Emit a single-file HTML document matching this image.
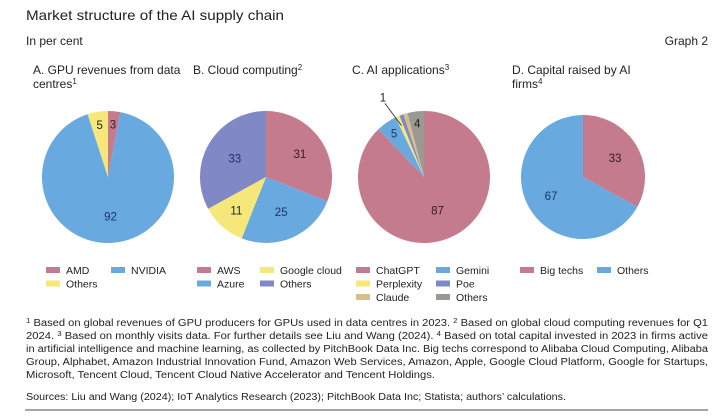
<!DOCTYPE html>
<html><head><meta charset="utf-8"><style>
html,body{margin:0;padding:0;background:#fff;}
svg{display:block;font-family:"Liberation Sans",sans-serif;}
</style></head><body>
<svg id="chart" width="720" height="418" viewBox="0 0 720 418" xmlns="http://www.w3.org/2000/svg">
<text x="26" y="20" font-size="14" fill="#222" textLength="258" lengthAdjust="spacingAndGlyphs">Market structure of the AI supply chain</text>
<text x="26" y="45" font-size="12" fill="#222">In per cent</text>
<text x="708" y="45" font-size="12" fill="#222" text-anchor="end">Graph 2</text>
<g font-size="12" fill="#222">
<text x="33" y="74">A. GPU revenues from data</text>
<text x="33" y="88">centres<tspan font-size="8" dy="-4">1</tspan></text>
<text x="193" y="74">B. Cloud computing<tspan font-size="8" dy="-4">2</tspan></text>
<text x="352" y="74">C. AI applications<tspan font-size="8" dy="-4">3</tspan></text>
<text x="512" y="74">D. Capital raised by AI</text>
<text x="512" y="88">firms<tspan font-size="8" dy="-4">4</tspan></text>
</g>
<g id="pies"></g>
<g id="legends" font-size="10.5" fill="#222"></g>
<g font-size="10" fill="#222">
<text x="26" y="326" textLength="682" lengthAdjust="spacingAndGlyphs"><tspan font-size="7" dy="-3">1</tspan><tspan dy="3">  Based on global revenues of GPU producers for GPUs used in data centres in 2023.   </tspan><tspan font-size="7" dy="-3">2</tspan><tspan dy="3">  Based on global cloud computing revenues for Q1</tspan></text>
<text x="26" y="339" textLength="682" lengthAdjust="spacingAndGlyphs">2024.   <tspan font-size="7" dy="-3">3</tspan><tspan dy="3">  Based on monthly visits data. For further details see Liu and Wang (2024).   </tspan><tspan font-size="7" dy="-3">4</tspan><tspan dy="3">  Based on total capital invested in 2023 in firms active</tspan></text>
<text x="26" y="352" textLength="682" lengthAdjust="spacingAndGlyphs">in artificial intelligence and machine learning, as collected by PitchBook Data Inc. Big techs correspond to Alibaba Cloud Computing, Alibaba</text>
<text x="26" y="365" textLength="682" lengthAdjust="spacingAndGlyphs">Group, Alphabet, Amazon Industrial Innovation Fund, Amazon Web Services, Amazon, Apple, Google Cloud Platform, Google for Startups,</text>
<text x="26" y="378" textLength="409" lengthAdjust="spacingAndGlyphs">Microsoft, Tencent Cloud, Tencent Cloud Native Accelerator and Tencent Holdings.</text>
<text x="26" y="400" textLength="540" lengthAdjust="spacingAndGlyphs">Sources: Liu and Wang (2024); IoT Analytics Research (2023); PitchBook Data Inc; Statista; authors’ calculations.</text>
</g>
<line x1="25" y1="410" x2="708" y2="410" stroke="#888" stroke-width="1.5"/>
</svg>
<script>
const aCategories=["AMD","NVIDIA","Others"];
const aValues=[3,92,5];
const bCategories=["AWS","Azure","Google cloud","Others"];
const bValues=[31,25,11,33];
const cCategories=["ChatGPT","Gemini","Perplexity","Poe","Claude","Others"];
const cValues=[87,5,1,1,1,4];
const dCategories=["Big techs","Others"];
const dValues=[33,67];

const NS="http://www.w3.org/2000/svg";
const COL={"AMD":"#c47b8e","NVIDIA":"#68a9df","AWS":"#c47b8e","Azure":"#68a9df","Google cloud":"#f6e77a","ChatGPT":"#c47b8e","Gemini":"#68a9df","Perplexity":"#f6e77a","Poe":"#8088c6","Claude":"#d8be8d","Big techs":"#c47b8e"};
const panels=[
 {id:"a",cats:aCategories,vals:aValues,cx:108,cy:177,r:66,others:"#f6e77a",labels:[0,1,2],legX:[46,111],legCols:[[0,2],[1]],frac:[0.8,0.6,0.8]},
 {id:"b",cats:bCategories,vals:bValues,cx:266,cy:177,r:66,others:"#8088c6",labels:[0,1,2,3],legX:[197,260],legCols:[[0,1],[2,3]],frac:[0.62,0.58,0.68,0.55]},
 {id:"c",cats:cCategories,vals:cValues,cx:424,cy:177,r:66,others:"#9b9a92",labels:[0,1,2,5],legX:[356,436],legCols:[[0,2,4],[1,3,5]],frac:[0.55,0.8,1,1,1,0.82]},
 {id:"d",cats:dCategories,vals:dValues,cx:583,cy:177,r:62,others:"#68a9df",labels:[0,1],legX:[520,597],legCols:[[0],[1]],frac:[0.6,0.6]}
];
function color(p,c){return c==="Others"?p.others:COL[c];}
function pt(p,ang,rr){return [p.cx+rr*Math.sin(ang),p.cy-rr*Math.cos(ang)];}
const pies=document.getElementById("pies");
const legs=document.getElementById("legends");
panels.forEach(p=>{
  const total=p.vals.reduce((s,v)=>s+v,0);
  const g=document.createElementNS(NS,"g");
  
  
  pies.appendChild(g);
  let acc=0;
  p.vals.forEach((v,i)=>{
    const a0=acc/total*2*Math.PI; acc+=v; const a1=acc/total*2*Math.PI;
    const s=pt(p,a0,p.r), e=pt(p,a1,p.r);
    const large=(a1-a0)>Math.PI?1:0;
    const path=document.createElementNS(NS,"path");
    path.setAttribute("d",`M${p.cx},${p.cy} L${s[0]},${s[1]} A${p.r},${p.r} 0 ${large} 1 ${e[0]},${e[1]} Z`);
    path.setAttribute("fill",color(p,p.cats[i]));
    
    
    g.appendChild(path);
    if(p.labels.indexOf(i)>=0){
      const mid=(a0+a1)/2;
      let q=pt(p,mid,p.r*p.frac[i]);
      const isOut=(p.id==="c"&&p.cats[i]==="Perplexity");
      if(isOut){ q=pt(p,mid,p.r*1.25); q=[q[0]-8,q[1]-4]; }
      const t=document.createElementNS(NS,"text");
      t.setAttribute("x",q[0]);t.setAttribute("y",q[1]+4);
      t.setAttribute("text-anchor","middle");t.setAttribute("font-size","11.5");
      const c=color(p,p.cats[i]);
      let fill=(c==="#68a9df"||c==="#8088c6")?"#1f3466":"#3a1a22";
      if(isOut||c==="#f6e77a"||c==="#9b9a92")fill="#222";
      t.setAttribute("fill",fill);
      t.textContent=p.vals[i];
      
      
      g.appendChild(t);
      if(isOut){
        const ln=document.createElementNS(NS,"line");
        const e2=pt(p,mid,p.r*0.85);
        ln.setAttribute("x1",q[0]+2);ln.setAttribute("y1",q[1]+6);
        ln.setAttribute("x2",e2[0]);ln.setAttribute("y2",e2[1]);
        ln.setAttribute("stroke","#222");ln.setAttribute("stroke-width","0.8");
        
        
        g.appendChild(ln);
      }
    }
  });
  p.legCols.forEach((col,ci)=>{
    col.forEach((idx,ri)=>{
      const y=271+ri*13.5;
      const x=p.legX[ci];
      const lg=document.createElementNS(NS,"g");
      
      
      const r=document.createElementNS(NS,"rect");
      r.setAttribute("x",x);r.setAttribute("y",y-4);r.setAttribute("width",14);r.setAttribute("height",6);
      r.setAttribute("fill",color(p,p.cats[idx]));
      lg.appendChild(r);
      const t=document.createElementNS(NS,"text");
      t.setAttribute("x",x+20);t.setAttribute("y",y+3);
      t.textContent=p.cats[idx];
      lg.appendChild(t);
      legs.appendChild(lg);
    });
  });
});
</script>
</body></html>
